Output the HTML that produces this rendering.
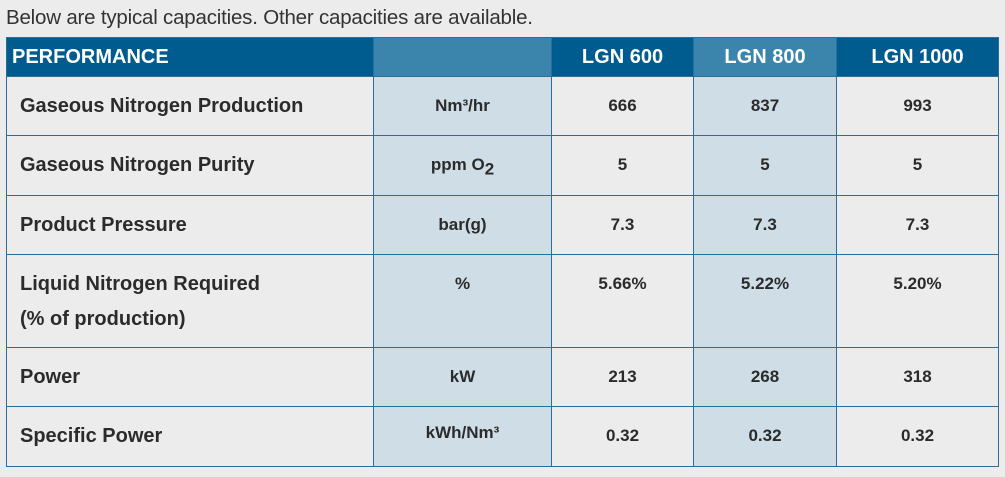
<!DOCTYPE html>
<html><head><meta charset="utf-8"><style>
body{margin:0;background:#ececec;font-family:"Liberation Sans",sans-serif;}
.wrap{position:relative;width:1005px;height:477px;overflow:hidden;background:#ececec}
.cap{position:absolute;left:6px;top:6px;font-size:20.5px;color:#333;letter-spacing:-0.2px}
table{position:absolute;left:6px;top:37px;border-collapse:collapse;table-layout:fixed}
td,th{border:1.5px solid #2a6f9a;padding:0;font-weight:bold;color:#2b2b2b}
th{height:38px;background:#005b8e;color:#fff;font-size:20px}
th.l{background:#3b84ab}
td{vertical-align:top;font-size:17px;text-align:center;padding-top:19px;box-sizing:border-box}
td.n{text-align:left;font-size:20px;padding-left:13px;padding-top:18px}
td.u{background:#cfdee6}
</style></head><body>
<div class="wrap">
<div class="cap">Below are typical capacities. Other capacities are available.</div>
<table>
<colgroup><col style="width:367px"><col style="width:178px"><col style="width:142px"><col style="width:143px"><col style="width:162px"></colgroup>
<tr><th style="text-align:left;padding-left:5px">PERFORMANCE</th><th class="l"></th><th>LGN 600</th><th class="l">LGN 800</th><th>LGN 1000</th></tr>
<tr style="height:59px"><td class="n">Gaseous Nitrogen Production</td><td class="u">Nm³/hr</td><td>666</td><td class="u">837</td><td>993</td></tr>
<tr style="height:60px"><td class="n">Gaseous Nitrogen Purity</td><td class="u">ppm O<sub style="font-size:17px">2</sub></td><td>5</td><td class="u">5</td><td>5</td></tr>
<tr style="height:59px"><td class="n">Product Pressure</td><td class="u">bar(g)</td><td>7.3</td><td class="u">7.3</td><td>7.3</td></tr>
<tr style="height:93px"><td class="n" style="line-height:35px;padding-top:12px;padding-bottom:0">Liquid Nitrogen Required<br>(% of production)</td><td class="u">%</td><td>5.66%</td><td class="u">5.22%</td><td>5.20%</td></tr>
<tr style="height:59px"><td class="n">Power</td><td class="u">kW</td><td>213</td><td class="u">268</td><td>318</td></tr>
<tr style="height:60px"><td class="n">Specific Power</td><td class="u" style="padding-top:16px">kWh/Nm³</td><td>0.32</td><td class="u">0.32</td><td>0.32</td></tr>
</table>
</div>
</body></html>
